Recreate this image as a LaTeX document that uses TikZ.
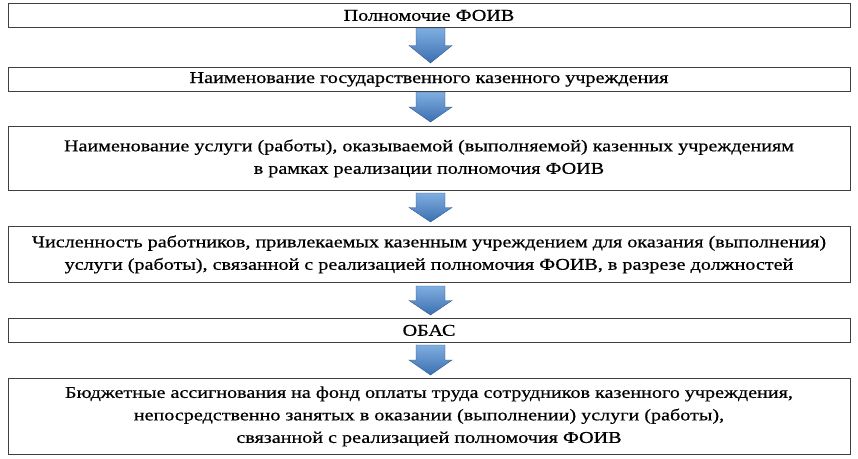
\documentclass[tikz,border=0pt]{standalone}
\usepackage{fontspec}
\setmainfont[FakeStretch=1.22,FakeBold=0.6]{Liberation Serif}
\definecolor{atop}{HTML}{7FAEE0}
\definecolor{abot}{HTML}{3C6FB0}
\begin{document}
\begin{tikzpicture}[x=1pt,y=-1pt,
  box/.style={draw=black!75,line width=0.8pt,minimum width=842pt,anchor=north,align=center,inner sep=2pt,font=\fontsize{16.5}{22.5}\selectfont},
  arr/.style={top color=atop,bottom color=abot,draw=abot!80!black,line width=0.4pt}]
\useasboundingbox (0,0) rectangle (858,458);
\newcommand{\downarr}[2]{\path[arr] (416,#1) -- (445,#1) -- (445,#1+0.5*#2-0.5*#1) -- (452,#1+0.5*#2-0.5*#1) -- (430.5,#2) -- (409,#1+0.5*#2-0.5*#1) -- (416,#1+0.5*#2-0.5*#1) -- cycle;}
\node[box,minimum height=24pt] (b1) at (429,3) {Полномочие ФОИВ};
\node[box,minimum height=24pt] (b2) at (429,67) {Наименование государственного казенного учреждения};
\node[box,minimum height=64pt] (b3) at (429,126) {Наименование услуги (работы), оказываемой (выполняемой) казенных учреждениям\\в рамках реализации полномочия ФОИВ};
\node[box,minimum height=56pt] (b4) at (429,226) {Численность работников, привлекаемых казенным учреждением для оказания (выполнения)\\услуги (работы), связанной с реализацией полномочия ФОИВ, в разрезе должностей};
\node[box,minimum height=24pt] (b5) at (429,318) {ОБАС};
\node[box,minimum height=76pt] (b6) at (429,378) {Бюджетные ассигнования на фонд оплаты труда сотрудников казенного учреждения,\\непосредственно занятых в оказании (выполнении) услуги (работы),\\связанной с реализацией полномочия ФОИВ};
\downarr{28}{63}
\downarr{92}{122}
\downarr{193}{222}
\downarr{286}{315}
\downarr{345}{375}
\end{tikzpicture}
\end{document}
